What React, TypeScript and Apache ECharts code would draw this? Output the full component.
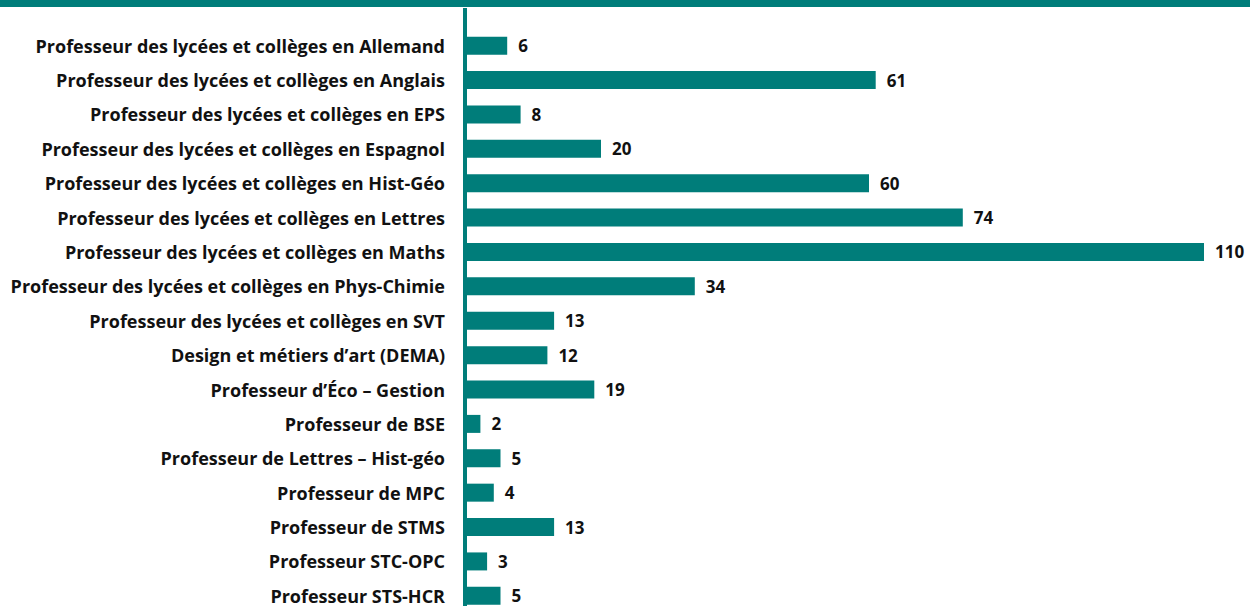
import React, { useEffect, useRef } from "react";
import * as echarts from "echarts";

const categories = [
  "Professeur des lycées et collèges en Allemand",
  "Professeur des lycées et collèges en Anglais",
  "Professeur des lycées et collèges en EPS",
  "Professeur des lycées et collèges en Espagnol",
  "Professeur des lycées et collèges en Hist-Géo",
  "Professeur des lycées et collèges en Lettres",
  "Professeur des lycées et collèges en Maths",
  "Professeur des lycées et collèges en Phys-Chimie",
  "Professeur des lycées et collèges en SVT",
  "Design et métiers d’art (DEMA)",
  "Professeur d’Éco – Gestion",
  "Professeur de BSE",
  "Professeur de Lettres – Hist-géo",
  "Professeur de MPC",
  "Professeur de STMS",
  "Professeur STC-OPC",
  "Professeur STS-HCR",
];
const values = [6, 61, 8, 20, 60, 74, 110, 34, 13, 12, 19, 2, 5, 4, 13, 3, 5];

const TEAL = "#007D7A";
const FONT = "'Open Sans'";

export default function App() {
  const ref = useRef<HTMLDivElement>(null);
  useEffect(() => {
    const chart = echarts.init(ref.current!, null, { renderer: "svg" });
    chart.setOption({
      animation: false,
      textStyle: { fontFamily: FONT },
      grid: { left: 467, right: 46, top: 28.5, height: 584.5 },
      xAxis: { type: "value", min: 0, max: 110, show: false },
      yAxis: {
        type: "category",
        data: categories,
        inverse: true,
        axisLine: { show: false },
        axisTick: { show: false },
        axisLabel: {
          margin: 22,
          color: "#111",
          fontSize: 18,
          fontWeight: "bold",
          fontFamily: FONT,
        },
      },
      graphic: [
        { type: "rect", shape: { x: 0, y: 0, width: 1250, height: 7 }, style: { fill: TEAL } },
        { type: "rect", shape: { x: 463, y: 8, width: 4, height: 612 }, style: { fill: TEAL } },
      ],
      series: [
        {
          type: "bar",
          data: values,
          barWidth: 18,
          itemStyle: { color: TEAL },
          label: {
            show: true,
            position: "right",
            distance: 11,
            color: "#111",
            fontSize: 17,
            fontWeight: "bold",
            fontFamily: FONT,
          },
        },
      ],
    });
    return () => chart.dispose();
  }, []);
  return (
    <div
      ref={ref}
      style={{ position: "fixed", left: 0, top: 0, width: 1250, height: 620, background: "#fff" }}
    />
  );
}
